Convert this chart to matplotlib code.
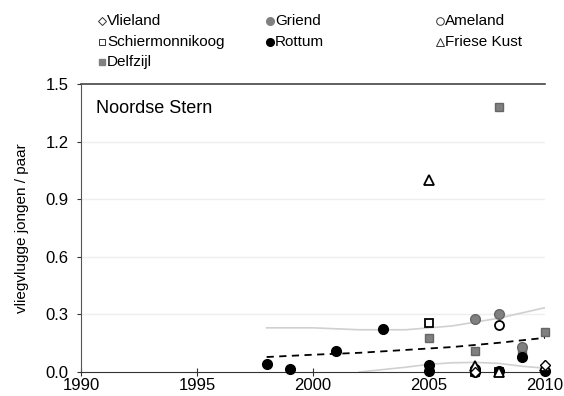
import matplotlib.pyplot as plt
from matplotlib.lines import Line2D

plt.rcParams["font.family"] = ["Liberation Sans", "DejaVu Sans"]

# data per colony (year, young per pair)
vlieland_x = [2007, 2010]
vlieland_y = [0.0, 0.035]
griend_x = [2007, 2008, 2009]
griend_y = [0.275, 0.30, 0.13]
ameland_x = [2008]
ameland_y = [0.245]
schier_x = [2005, 2007, 2008]
schier_y = [0.255, 0.0, 0.0]
rottum_x = [1998, 1999, 2001, 2003, 2005, 2005, 2007, 2007, 2008, 2009, 2010]
rottum_y = [0.04, 0.015, 0.11, 0.225, 0.035, 0.005, 0.015, 0.0, 0.005, 0.08, 0.005]
friese_x = [2005, 2007, 2008, 2010]
friese_y = [1.0, 0.03, 0.0, 0.03]
delfzijl_x = [2005, 2007, 2008, 2009, 2010]
delfzijl_y = [0.175, 0.11, 1.38, 0.10, 0.21]

# trend and confidence band
trend_x = [1998, 2000, 2002, 2004, 2006, 2008, 2010]
trend_y = [0.078, 0.09, 0.10, 0.115, 0.13, 0.152, 0.178]
upper_x = [1998, 2000, 2002, 2004, 2006, 2008, 2010]
upper_y = [0.23, 0.23, 0.22, 0.22, 0.24, 0.28, 0.335]
lower_x = [2002, 2004, 2005, 2006, 2007, 2008, 2009, 2010]
lower_y = [0.0, 0.025, 0.04, 0.048, 0.05, 0.045, 0.03, 0.02]

W, H = 564, 396
fig = plt.figure(figsize=(W / 100, H / 100), dpi=100)
ax = fig.add_axes([81 / W, 1 - 372 / H, (545 - 81) / W, (372 - 84) / H])

for yv in [0.3, 0.6, 0.9, 1.2]:
    ax.axhline(yv, color="#eeeeee", lw=1, zorder=0)
ax.axhline(1.5, color="#444444", lw=1.2, zorder=1, clip_on=False)

ax.plot(upper_x, upper_y, color="#d0d0d0", lw=1.2, zorder=1)
ax.plot(lower_x, lower_y, color="#d0d0d0", lw=1.2, zorder=1)
ax.plot(trend_x, trend_y, color="black", lw=1.3, ls=(0, (4, 3)), zorder=2)

kw = dict(ls="", clip_on=False)
ax.plot(delfzijl_x, delfzijl_y, marker="s", color="#808080", mec="#666666", ms=6, zorder=3, **kw)
ax.plot(griend_x, griend_y, marker="o", color="#808080", mec="#666666", ms=7, zorder=3, **kw)
ax.plot(ameland_x, ameland_y, marker="o", mfc="white", mec="black", mew=1.3, ms=6.5, zorder=3, **kw)
ax.plot(schier_x, schier_y, marker="s", mfc="white", mec="black", mew=1.3, ms=5.5, zorder=3, **kw)
ax.plot(rottum_x, rottum_y, marker="o", color="black", ms=7, zorder=4, **kw)
ax.plot(friese_x, friese_y, marker="^", mfc="white", mec="black", mew=1.3, ms=6.5, zorder=5, **kw)
ax.plot(vlieland_x, vlieland_y, marker="D", mfc="white", mec="black", mew=1.0, ms=5, zorder=5, **kw)

ax.set_xlim(1990, 2010)
ax.set_ylim(0, 1.5)
ax.set_xticks([1990, 1995, 2000, 2005, 2010])
ax.set_yticks([0.0, 0.3, 0.6, 0.9, 1.2, 1.5])
ax.set_yticklabels(["0.0", "0.3", "0.6", "0.9", "1.2", "1.5"])
ax.tick_params(labelsize=12, color="#333333")
ax.tick_params(axis="x", direction="inout", length=6, pad=1)
ax.tick_params(axis="y", direction="out", length=3, pad=6)
for s in ["top", "right"]:
    ax.spines[s].set_visible(False)
ax.spines["left"].set_color("#555555")
ax.spines["bottom"].set_color("#333333")
ax.set_ylabel("vliegvlugge jongen / paar", fontsize=11, labelpad=12)
ax.text(0.033, 0.915, "Noordse Stern", transform=ax.transAxes, fontsize=13, va="center")

# legend, three columns
legend_items = [
    ("Vlieland", 102, 21, dict(marker="D", mfc="white", mec="#333333", mew=0.7, ms=4)),
    ("Schiermonnikoog", 102, 42, dict(marker="s", mfc="white", mec="#333333", mew=0.7, ms=4.5)),
    ("Delfzijl", 102, 62, dict(marker="s", color="#808080", ms=4.5)),
    ("Griend", 270, 21, dict(marker="o", color="#808080", ms=5.5)),
    ("Rottum", 270, 42, dict(marker="o", color="black", ms=5.5)),
    ("Ameland", 440, 21, dict(marker="o", mfc="white", mec="#333333", mew=0.7, ms=5.5)),
    ("Friese Kust", 440, 42, dict(marker="^", mfc="white", mec="#333333", mew=0.7, ms=5.5)),
]
for label, px, py, style in legend_items:
    fig.add_artist(Line2D([px / W], [1 - py / H], transform=fig.transFigure, ls="", **style))
    fig.text((px + 5) / W, 1 - py / H, label, fontsize=11, va="center", ha="left")

fig.savefig("out.png", dpi=100)
